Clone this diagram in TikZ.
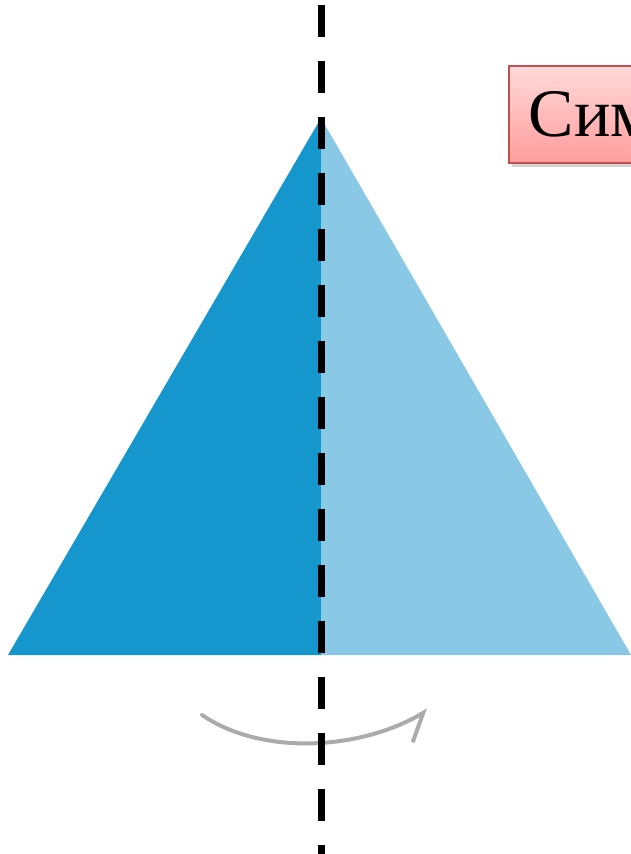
\documentclass[tikz,border=0pt]{standalone}
\usepackage{fontspec}
\setmainfont{Liberation Serif}
\usetikzlibrary{arrows.meta, positioning, shadows}
\definecolor{triDark}{HTML}{1597CE}
\definecolor{triLight}{HTML}{89C9E5}
\definecolor{boxTop}{HTML}{FFDADA}
\definecolor{boxBottom}{HTML}{FF9C9C}
\definecolor{boxEdge}{HTML}{C0504D}

\begin{document}
\begin{tikzpicture}[x=1pt, y=-1pt,
    axisline/.style={line width=7pt, dash pattern=on 32pt off 24pt, black},
    turnarrow/.style={line width=4pt, draw=black!33, line cap=round,
                 -{Straight Barb[right, length=24pt, width=40pt, line width=4pt]}},
    symbox/.style={rectangle, draw=boxEdge, line width=1.5pt,
                 top color=boxTop, bottom color=boxBottom,
                 drop shadow={opacity=0.35, shadow xshift=3pt, shadow yshift=-4pt},
                 minimum height=97pt, text height=45pt, text depth=0pt,
                 inner xsep=20pt, anchor=north west,
                 font=\fontsize{68}{80}\selectfont},
  ]
    \clip (0,0) rectangle (631,854);

    % triangle, two halves
    \coordinate (apex) at (321,118);
    \coordinate (foot) at (321,655);
    \fill[triDark] (apex) -- (8,655) -- (foot) -- cycle;
    \fill[triLight] (apex) -- (631,655) -- (foot) -- cycle;

    % turn arrow under the base
    \coordinate (arcL) at (202,715);
    \coordinate (arcR) at (428,710);
    \draw[turnarrow] (arcL) .. controls (262,756) and (360,750) .. (arcR);

    % axis of symmetry
    \coordinate (axTop) at (321,5);
    \coordinate (axBot) at (321,854);
    \draw[axisline] (axTop) -- (axBot);

    \node[symbox] (title) at (508,65) {Симметрия};
  \end{tikzpicture}
\end{document}
